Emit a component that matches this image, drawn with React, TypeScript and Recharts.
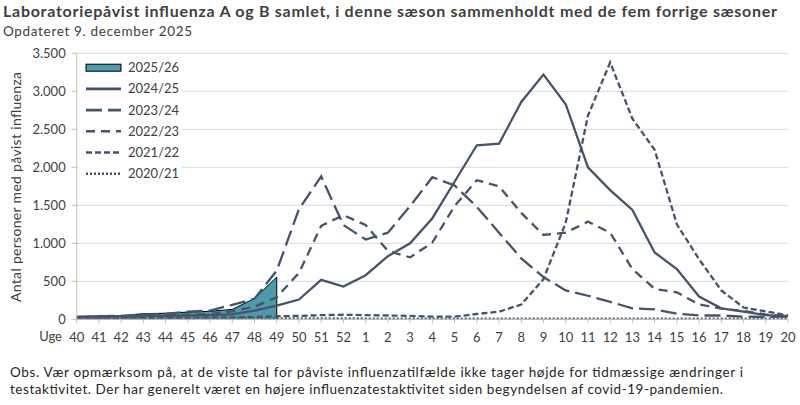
import { Area, CartesianGrid, ComposedChart, Line, ReferenceLine, XAxis, YAxis } from "recharts";

const weeks = [
  "40", "41", "42", "43", "44", "45", "46", "47", "48", "49", "50", "51", "52",
  "1", "2", "3", "4", "5", "6", "7", "8", "9", "10", "11", "12", "13", "14", "15", "16", "17", "18", "19", "20",
];

const s2526 = [30, 45, 45, 75, 80, 95, 105, 130, 275, 555];

const s2425 = [
  30, 35, 40, 45, 45, 50, 55, 65, 115, 180, 260, 520, 430,
  580, 830, 1000, 1330, 1810, 2290, 2310, 2860, 3220, 2830, 2000, 1700, 1440, 880, 660, 300, 145, 100, 55, 40,
];

const s2324 = [
  30, 40, 45, 65, 70, 100, 115, 190, 270, 640, 1450, 1880, 1240,
  1050, 1140, 1490, 1870, 1760, 1480, 1140, 800, 555, 380, 310, 230, 145, 130, 75, 50, 50, 35, 30, 35,
];

const s2223 = [
  25, 30, 35, 45, 50, 60, 70, 105, 165, 290, 610, 1230, 1370,
  1240, 900, 815, 1010, 1490, 1830, 1750, 1400, 1110, 1140, 1285, 1140, 660, 400, 355, 195, 140, 110, 65, 40,
];

const s2122 = [
  15, 15, 15, 15, 20, 20, 25, 25, 30, 40, 45, 55, 60,
  55, 50, 45, 35, 35, 70, 100, 195, 530, 1270, 2680, 3380, 2640, 2230, 1250, 790, 380, 155, 105, 50,
];

const s2021 = [
  8, 8, 8, 10, 10, 10, 10, 10, 12, 12, 12, 12, 12,
  10, 10, 10, 10, 10, 10, 10, 10, 10, 10, 10, 10, 8, 8, 8, 8, 8, 8, 8, 8,
];

const yTicks = [0, 500, 1000, 1500, 2000, 2500, 3000, 3500];

const data = weeks.map((week, i) => ({
  week,
  s2526: i < s2526.length ? s2526[i] : null,
  s2425: s2425[i],
  s2324: s2324[i],
  s2223: s2223[i],
  s2122: s2122[i],
  s2021: s2021[i],
}));

const LINE = "#44546A";
const FILL = "#4E9AAA";
const FONT = "Lato, 'DejaVu Sans', sans-serif";

const lineSeries = [
  { key: "s2425", name: "2024/25", dash: undefined },
  { key: "s2324", name: "2023/24", dash: "16 6" },
  { key: "s2223", name: "2022/23", dash: "9 6" },
  { key: "s2122", name: "2021/22", dash: "6 3" },
  { key: "s2021", name: "2020/21", dash: "2 2" },
];

const fmt = (v: number) => String(v).replace(/\B(?=(\d{3})+(?!\d))/g, ".");

export default function App() {
  return (
    <div style={{ position: "absolute", left: 0, top: 0, width: 800, height: 405, background: "#fff" }}>
      <ComposedChart
        width={800}
        height={405}
        data={data}
        margin={{ top: 53.3, right: 12, bottom: 55.7, left: 0 }}
        style={{ fontFamily: FONT }}
      >
        <CartesianGrid vertical={false} stroke="#D9D9D9" />
        <XAxis
          dataKey="week"
          scale="point"
          interval={0}
          height={30}
          tickSize={4}
          tickMargin={9}
          axisLine={{ stroke: "#BFBFBF" }}
          tickLine={{ stroke: "#BFBFBF" }}
          tick={{ fill: "#404040", fontSize: 13 }}
        />
        <YAxis
          width={76.7}
          domain={[0, 3500]}
          ticks={yTicks}
          tickFormatter={fmt}
          tickSize={5}
          tickMargin={6}
          axisLine={{ stroke: "#BFBFBF" }}
          tickLine={{ stroke: "#BFBFBF" }}
          tick={{ fill: "#404040", fontSize: 13 }}
        />
        <Area
          dataKey="s2526"
          type="linear"
          fill={FILL}
          fillOpacity={1}
          stroke="#000"
          strokeWidth={1}
          isAnimationActive={false}
        />
        <ReferenceLine
          segment={[
            { x: weeks[s2526.length - 1], y: 0 },
            { x: weeks[s2526.length - 1], y: s2526[s2526.length - 1] },
          ]}
          stroke="#000"
          strokeWidth={1}
        />
        {lineSeries.map((s) => (
          <Line
            key={s.key}
            dataKey={s.key}
            type="linear"
            stroke={LINE}
            strokeWidth={2.3}
            strokeDasharray={s.dash}
            dot={false}
            activeDot={false}
            isAnimationActive={false}
          />
        ))}
      </ComposedChart>

      <svg
        width={800}
        height={405}
        style={{ position: "absolute", left: 0, top: 0, pointerEvents: "none", fontFamily: FONT }}
      >
        <text x={3} y={17.3} fontSize={16} fontWeight={700} fill="#404040" textLength={774}>
          Laboratoriepåvist influenza A og B samlet, i denne sæson sammenholdt med de fem forrige sæsoner
        </text>
        <text x={3} y={35.7} fontSize={13.5} fill="#404040" textLength={189}>
          Opdateret 9. december 2025
        </text>
        <text
          transform="translate(21,187) rotate(-90)"
          textAnchor="middle"
          fontSize={14}
          fill="#404040"
          textLength={230}
        >
          Antal personer med påvist influenza
        </text>
        <text x={62} y={336.7} dy="0.35em" textAnchor="end" fontSize={13} fill="#404040">
          Uge
        </text>

        <rect x={78} y={57} width={104} height={127} fill="#fff" />
        <rect x={86} y={64.2} width={35} height={7} fill={FILL} stroke="#000" strokeWidth={1} />
        <text x={128} y={67.7} dy="0.35em" fontSize={13} fill="#404040">
          2025/26
        </text>
        {lineSeries.map((s, i) => {
          const y = 67.7 + (i + 1) * 21.2;
          return (
            <g key={s.key}>
              <line x1={86} x2={121} y1={y} y2={y} stroke={LINE} strokeWidth={2.6} strokeDasharray={s.dash} />
              <text x={128} y={y} dy="0.35em" fontSize={13} fill="#404040">
                {s.name}
              </text>
            </g>
          );
        })}

        <text x={10} y={377.3} fontSize={13.5} fill="#262626" textLength={733}>
          Obs. Vær opmærksom på, at de viste tal for påviste influenzatilfælde ikke tager højde for tidmæssige ændringer i
        </text>
        <text x={10} y={394.3} fontSize={13.5} fill="#262626" textLength={713}>
          testaktivitet. Der har generelt været en højere influenzatestaktivitet siden begyndelsen af covid-19-pandemien.
        </text>
      </svg>
    </div>
  );
}
